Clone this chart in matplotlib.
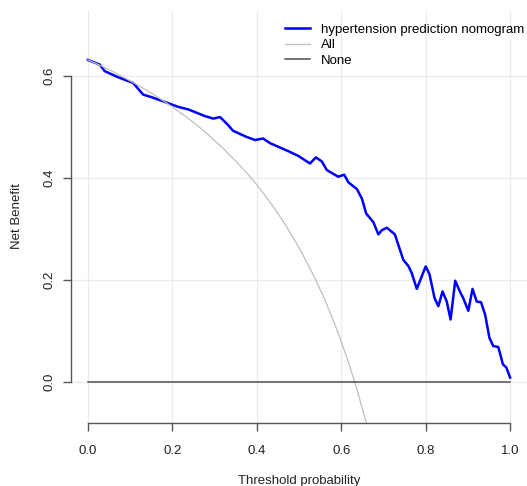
import matplotlib
matplotlib.use("Agg")
import matplotlib.pyplot as plt

plt.rcParams["font.family"] = ["Liberation Sans", "DejaVu Sans"]

# decision curve
thresholds = [0, 0.028, 0.040, 0.072, 0.107, 0.131, 0.151, 0.178, 0.214, 0.238,
              0.277, 0.297, 0.313, 0.329, 0.344, 0.376, 0.396, 0.415, 0.431, 0.475,
              0.498, 0.526, 0.540, 0.554, 0.566, 0.593, 0.607, 0.617, 0.637, 0.649,
              0.659, 0.676, 0.688, 0.696, 0.708, 0.727, 0.747, 0.759, 0.767, 0.779,
              0.800, 0.809, 0.821, 0.830, 0.840, 0.850, 0.859, 0.870, 0.882, 0.889,
              0.901, 0.911, 0.921, 0.931, 0.941, 0.951, 0.960, 0.972, 0.983, 0.991, 1.0]
nomogram_nb = [0.632, 0.623, 0.610, 0.598, 0.587, 0.564, 0.559, 0.551, 0.540, 0.535,
               0.522, 0.517, 0.520, 0.507, 0.493, 0.481, 0.475, 0.478, 0.469, 0.453,
               0.444, 0.429, 0.441, 0.433, 0.416, 0.403, 0.407, 0.392, 0.379, 0.360,
               0.331, 0.314, 0.290, 0.298, 0.303, 0.290, 0.240, 0.228, 0.214, 0.183,
               0.227, 0.212, 0.165, 0.149, 0.178, 0.158, 0.123, 0.199, 0.176, 0.165,
               0.140, 0.183, 0.158, 0.157, 0.132, 0.087, 0.071, 0.069, 0.035, 0.029, 0.009]

all_thresholds = [0, 0.02, 0.04, 0.06, 0.08, 0.10, 0.12, 0.14, 0.16, 0.18, 0.20, 0.22,
                  0.24, 0.26, 0.28, 0.30, 0.32, 0.34, 0.36, 0.38, 0.40, 0.42, 0.44,
                  0.46, 0.48, 0.50, 0.52, 0.54, 0.56, 0.58, 0.60, 0.62, 0.64, 0.66]
all_nb = [0.632, 0.625, 0.617, 0.609, 0.600, 0.591, 0.582, 0.572, 0.562, 0.551, 0.540,
          0.528, 0.516, 0.503, 0.489, 0.474, 0.459, 0.442, 0.425, 0.407, 0.387, 0.366,
          0.343, 0.319, 0.292, 0.264, 0.233, 0.200, 0.164, 0.124, 0.080, 0.032,
          -0.022, -0.082]

none_thresholds = [0, 1.0]
none_nb = [0, 0]

fig = plt.figure(figsize=(5.27, 4.86), dpi=100)
ax = fig.add_axes([71 / 527, 63 / 486, 456 / 527, 413 / 486])

grid_col = "#ebebeb"
for gx in [0, 0.2, 0.4, 0.6, 0.8, 1.0]:
    ax.axvline(gx, color=grid_col, lw=0.9, zorder=0)
for gy in [0, 0.2, 0.4, 0.6]:
    ax.axhline(gy, color=grid_col, lw=0.9, zorder=0)

ax.plot(thresholds, nomogram_nb, color="blue", lw=1.8, label="hypertension prediction nomogram")
ax.plot(all_thresholds, all_nb, color="#bebebe", lw=0.9, label="All")
ax.plot(none_thresholds, none_nb, color="#505050", lw=1.1, label="None")

ax.set_xlim(-0.04, 1.04)
ax.set_ylim(-0.08, 0.73)
ax.set_xticks([0, 0.2, 0.4, 0.6, 0.8, 1.0])
ax.set_yticks([0, 0.2, 0.4, 0.6])
ax.set_xticklabels(["0.0", "0.2", "0.4", "0.6", "0.8", "1.0"])
ax.set_yticklabels(["0.0", "0.2", "0.4", "0.6"], rotation=90, va="center")

for s in ["top", "right"]:
    ax.spines[s].set_visible(False)
ax.spines["left"].set_bounds(0, 0.6)
ax.spines["bottom"].set_bounds(0, 1)
for s in ["left", "bottom"]:
    ax.spines[s].set_color("#555555")
    ax.spines[s].set_linewidth(1.0)
ax.tick_params(direction="out", length=6, width=1.0, color="#555555",
               labelsize=9.5, labelcolor="#222222")
ax.tick_params(axis="x", pad=9.5)
ax.tick_params(axis="y", pad=5)

ax.set_xlabel("Threshold probability", fontsize=9.5, color="#222222")
ax.set_ylabel("Net Benefit", fontsize=9.5, color="#222222")
ax.xaxis.set_label_coords(0.5, -0.126)
ax.yaxis.set_label_coords(-0.106, 0.5)

ax.legend(loc="upper left", bbox_to_anchor=(285 / 527, 1 - 23.5 / 486),
          bbox_transform=fig.transFigure, frameon=False, fontsize=9.5,
          handlelength=1.9, handletextpad=0.85, labelspacing=0.25,
          borderpad=0, borderaxespad=0)

fig.savefig("out.png", dpi=100)
